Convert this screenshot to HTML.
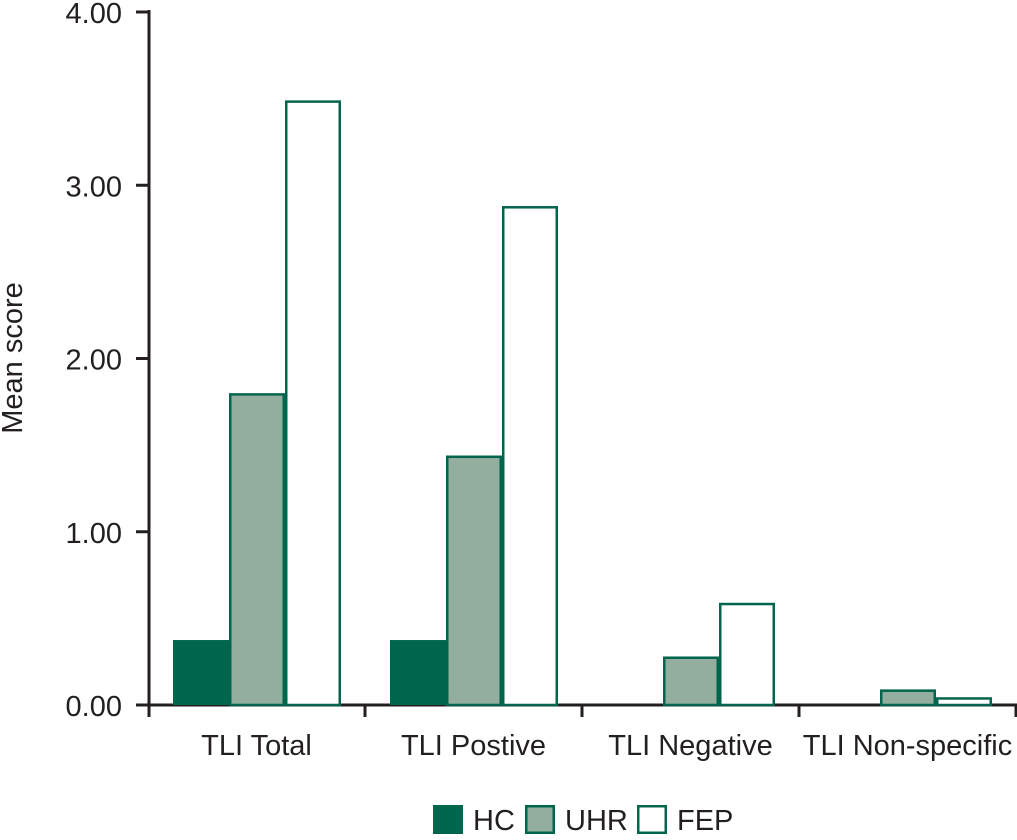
<!DOCTYPE html>
<html><head><meta charset="utf-8"><style>
body{margin:0;background:#fff;}
svg text{font-family:"Liberation Sans",sans-serif;fill:#231f20;}
</style></head><body>
<svg id="chart" width="1017" height="835">
<g id="axes"></g><g id="bars"></g><g id="legend"></g>
</svg>
<script>
const categories=["TLI Total","TLI Postive","TLI Negative","TLI Non-specific"];
const hcValues=[0.375,0.375,0,0];
const uhrValues=[1.80,1.44,0.28,0.09];
const fepValues=[3.49,2.88,0.59,0.045];
const yTicks=[0,1,2,3,4];
const yTickLabels=["0.00","1.00","2.00","3.00","4.00"];
const NS="http://www.w3.org/2000/svg";
const x0=148,groupW=217,y0=705,yTop=12,yMax=4;
const yScale=v=>y0-(v/yMax)*(y0-yTop);
function mk(t,a,p){const e=document.createElementNS(NS,t);for(const k in a)e.setAttribute(k,a[k]);p.appendChild(e);return e;}
const axes=document.getElementById('axes'),bars=document.getElementById('bars'),leg=document.getElementById('legend');
let yl=mk('line',{x1:x0+1,y1:yTop-2,x2:x0+1,y2:717,stroke:'#231f20','stroke-width':3},axes);

yTicks.forEach((v,i)=>{const y=yScale(v);
 const t=mk('line',{x1:136,y1:y,x2:x0,y2:y,stroke:'#231f20','stroke-width':3},axes);
 
 const l=mk('text',{x:122,y:y+11,'text-anchor':'end','font-size':29},axes);l.textContent=yTickLabels[i];
 });
const yt=mk('text',{x:0,y:0,'font-size':29,'text-anchor':'middle',transform:'translate(22,358) rotate(-90)'},axes);
yt.textContent='Mean score';
const series=[{v:hcValues,n:'hc'},{v:uhrValues,n:'uhr'},{v:fepValues,n:'fep'}];
const styles={hc:{fill:'#00654d',stroke:'#00654d'},uhr:{fill:'#93ae9f',stroke:'#00654d'},fep:{fill:'#fff',stroke:'#00654d'}};
categories.forEach((c,i)=>{const gx=x0+i*groupW;
 series.forEach((s,j)=>{const v=s.v[i];if(v<=0)return;const y=yScale(v);const bx=gx+25+j*56;
  const sw=s.n==='hc'?0:2.5;
  const r=mk('rect',{x:bx+sw/2,y:y+sw/2,width:56-sw,height:y0-y-sw/2,fill:styles[s.n].fill,stroke:styles[s.n].stroke,'stroke-width':sw},bars);
  });
 const t=mk('line',{x1:gx+groupW,y1:y0,x2:gx+groupW,y2:717,stroke:'#231f20','stroke-width':3},axes);
 
 const l=mk('text',{x:gx+groupW/2+(i==3?0:0),y:755,'text-anchor':'middle','font-size':29},axes);l.textContent=c;
 });
const xl=mk('line',{x1:136,y1:y0,x2:1017,y2:y0,stroke:'#231f20','stroke-width':3},axes);

const legItems=[['HC','hc',433],['UHR','uhr',525],['FEP','fep',637]];
legItems.forEach(([t,n,x])=>{const st=styles[n];
 const r=mk('rect',{x:x+1.25,y:806.25,width:27.5,height:26.5,fill:st.fill,stroke:st.stroke,'stroke-width':2.5},leg);
 
 const l=mk('text',{x:x+40,y:830,'font-size':29},leg);l.textContent=t;
 });
</script>
</body></html>
